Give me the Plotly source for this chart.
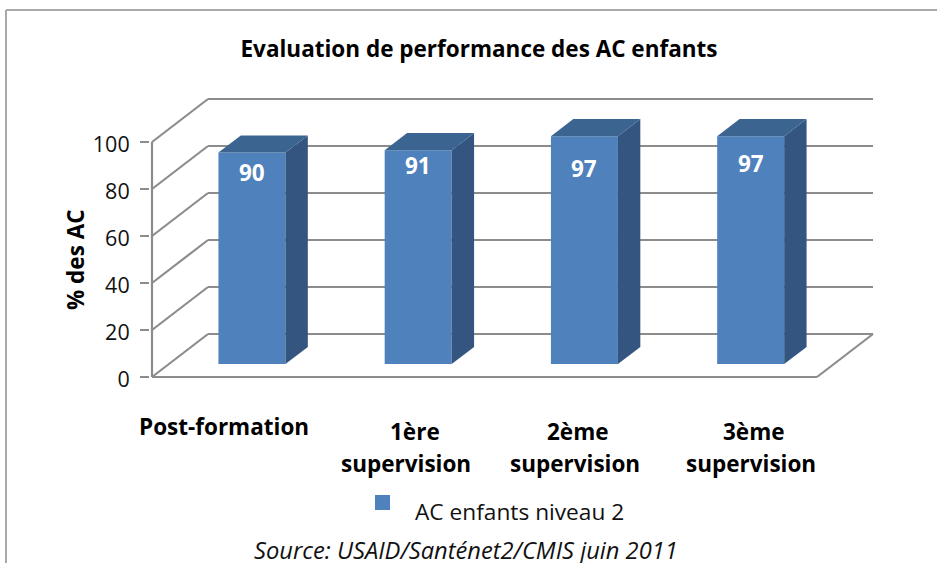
import plotly.graph_objects as go

# ---- data ----
categories = [["Post-formation"], ["1ère", "supervision"], ["2ème", "supervision"], ["3ème", "supervision"]]
values = [90, 91, 97, 97]
value_labels = ["90", "91", "97", "97"]
y_ticks = [0, 20, 40, 60, 80, 100]
series_name = "AC enfants niveau 2"
title = "Evaluation de performance des AC enfants"
y_title = "% des AC"
source = "Source: USAID/Santénet2/CMIS juin 2011"

# ---- geometry (style only) ----
W, H = 937, 563
FONT = "Open Sans"
FS = 22.5
X_PX, Y_PX = 166.25, 2.35          # pixels per data unit
L, R, T, B = 150, 877, 95, 382     # plot area in pixels
X0_PX, Y0_PX = 152, 377            # pixel of front plane x=-0.5, y=0
DX, DY = 56 / X_PX, 43 / Y_PX      # full depth of the 3-D box
D_FRONT, D_BACK = 0.30, 0.70       # bar front / back faces as a depth fraction
BAR_W = 67 / X_PX
GRID = "#8c8c8c"
FRONT, TOP, SIDE = "#4f81bd", "#3c6491", "#335580"
INK = "#111111"
xs = list(range(len(values)))
x_left, x_right = -0.5, len(values) - 0.5


def px(p):
    return (p - L) / (R - L)


def py(p):
    return (B - p) / (B - T)


fig = go.Figure()

# front faces
fig.add_bar(
    x=[x + DX * D_FRONT for x in xs], y=values, base=DY * D_FRONT, width=BAR_W,
    marker=dict(color=FRONT, line_width=0), name=series_name, showlegend=False, hoverinfo="skip",
)

# side and top faces, derived from the values
d = D_BACK - D_FRONT
for x, v in zip(xs, values):
    xr = x + DX * D_FRONT + BAR_W / 2
    xl = xr - BAR_W
    y0 = DY * D_FRONT
    y1 = y0 + v
    fig.add_scatter(
        x=[xr, xr + DX * d, xr + DX * d, xr, xr], y=[y0, y0 + DY * d, y1 + DY * d, y1, y0],
        mode="lines", fill="toself", fillcolor=SIDE, line=dict(width=0, color=SIDE),
        showlegend=False, hoverinfo="skip", cliponaxis=False,
    )
    fig.add_scatter(
        x=[xl, xr, xr + DX * d, xl + DX * d, xl], y=[y1, y1, y1 + DY * d, y1 + DY * d, y1],
        mode="lines", fill="toself", fillcolor=TOP, line=dict(width=0, color=TOP),
        showlegend=False, hoverinfo="skip", cliponaxis=False,
    )

shapes = []


def seg(x0, y0, x1, y1):
    shapes.append(dict(type="line", xref="x", yref="y", x0=x0, y0=y0, x1=x1, y1=y1,
                       layer="below", line=dict(color=GRID, width=2.2)))


for t in y_ticks:
    seg(x_left + DX, t + DY, x_right + DX, t + DY)  # back wall
    seg(x_left, t, x_left + DX, t + DY)             # left wall
seg(x_left, 0, x_left, y_ticks[-1])                 # axis line
seg(x_left, 0, x_right, 0)                          # floor front
seg(x_right, 0, x_right + DX, DY)                   # floor right

# chart frame (top + left, open at the bottom and right)
shapes.append(dict(type="line", xref="paper", yref="paper", x0=px(6), y0=py(10), x1=px(W), y1=py(10),
                   layer="below", line=dict(color="#a9a9a9", width=2)))
shapes.append(dict(type="line", xref="paper", yref="paper", x0=px(6), y0=py(10), x1=px(6), y1=py(H),
                   layer="below", line=dict(color="#a9a9a9", width=2)))
# legend swatch
shapes.append(dict(type="rect", xref="paper", yref="paper", x0=px(375), x1=px(390), y0=py(510), y1=py(495),
                   fillcolor=FRONT, line_width=0))

annotations = []
# value labels
for x, v, lab, off in zip(xs, values, value_labels, [20, 15, 32, 27]):
    annotations.append(dict(x=x + DX * D_FRONT, y=v + DY * D_FRONT, xref="x", yref="y", text=f"<b>{lab}</b>",
                            showarrow=False, yshift=-off, xanchor="center", yanchor="middle",
                            font=dict(family=FONT, size=FS, color="white")))
# category labels: one annotation per line
for lines, centers, rows in zip(categories,
                                [[224], [415, 406], [578, 575], [754, 751]],
                                [[426], [431, 463], [431, 463], [431, 463]]):
    for line, cx, cy in zip(lines, centers, rows):
        annotations.append(dict(x=px(cx), y=py(cy), xref="paper", yref="paper", text=f"<b>{line}</b>",
                                showarrow=False, xanchor="center", yanchor="middle",
                                font=dict(family=FONT, size=FS, color="black")))
annotations.append(dict(x=px(75), y=py(260), xref="paper", yref="paper", text=f"<b>{y_title}</b>", textangle=-90,
                        showarrow=False, xanchor="center", yanchor="middle",
                        font=dict(family=FONT, size=FS, color="black")))
annotations.append(dict(x=px(413), y=py(511), xref="paper", yref="paper", text=series_name, showarrow=False,
                        xanchor="left", yanchor="middle", font=dict(family=FONT, size=22.7, color=INK)))
annotations.append(dict(x=px(466), y=py(550), xref="paper", yref="paper", text=f"<i>{source}</i>", showarrow=False,
                        xanchor="center", yanchor="middle", font=dict(family=FONT, size=23.7, color=INK)))

fig.update_layout(
    width=W, height=H, autosize=False,
    margin=dict(l=L, r=W - R, t=T, b=H - B, autoexpand=False),
    paper_bgcolor="white", plot_bgcolor="white", showlegend=False,
    title=dict(text=f"<b>{title}</b>", x=479 / W, xanchor="center", y=1 - 49 / H, yanchor="middle",
               font=dict(family=FONT, size=FS, color="black")),
    xaxis=dict(range=[x_left + (L - X0_PX) / X_PX, x_left + (R - X0_PX) / X_PX], visible=False),
    yaxis=dict(range=[(Y0_PX - B) / Y_PX, (Y0_PX - T) / Y_PX], tickvals=y_ticks, showgrid=False, zeroline=False,
               showline=False, ticks="outside", ticklen=9, tickwidth=2, tickcolor=GRID,
               ticklabelstandoff=6, ticklabelshift=2,
               tickfont=dict(family=FONT, size=21.5, color=INK)),
    shapes=shapes, annotations=annotations,
)
fig.write_html("out.html", config={"displayModeBar": False},
               post_script="document.body.style.margin='0';document.documentElement.style.overflow='hidden';")
